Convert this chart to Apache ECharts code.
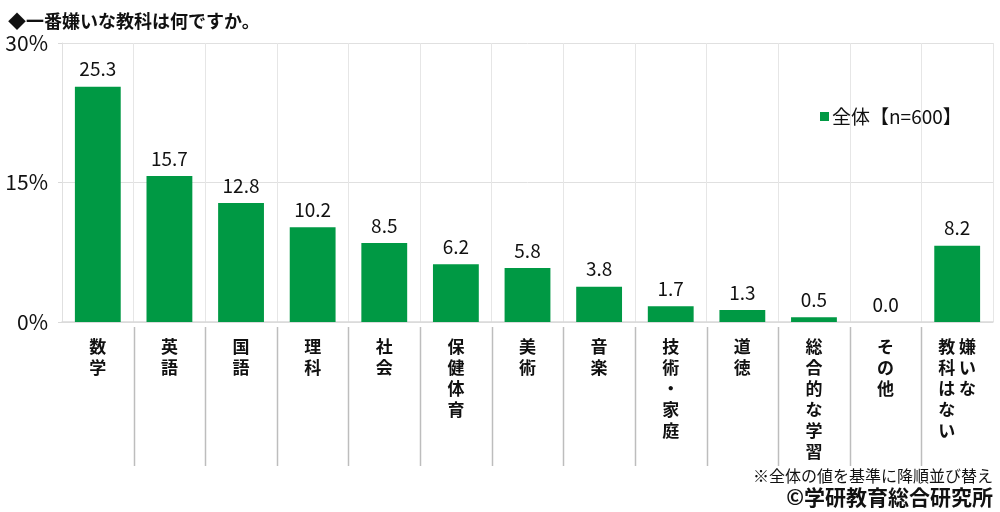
<!DOCTYPE html>
<html><head><meta charset="utf-8">
<script src="https://cdn.jsdelivr.net/npm/echarts@6/dist/echarts.min.js"></script>
<style>html,body{margin:0;padding:0;background:#fff}#c{width:1000px;height:512px}</style>
</head><body><div id="c"></div>
<script>
const titleText = '◆一番嫌いな教科は何ですか。';
const categories = ['数学','英語','国語','理科','社会','保健体育','美術','音楽','技術・家庭','道徳','総合的な学習','その他','嫌いな\n教科はない'];
const values = [25.3,15.7,12.8,10.2,8.5,6.2,5.8,3.8,1.7,1.3,0.5,0.0,8.2];
const seriesName = '全体【n=600】';
const yTicks = [0,15,30];
const noteText = '※全体の値を基準に降順並び替え';
const creditText = '©学研教育総合研究所';

const FONT = '"Noto Sans CJK JP", "Noto Sans", sans-serif';
const GREEN = '#009944';

function vertical(name){
  const cols = name.split('\n'); // reading order: right column first
  const rows = Math.max(...cols.map(c=>c.length));
  const out = [];
  for(let i=0;i<rows;i++){
    const parts = [];
    for(let j=cols.length-1;j>=0;j--){ parts.push(cols[j][i] || '\u3000'); }
    out.push(parts.join(' '));
  }
  return out.join('\n');
}

const chart = echarts.init(document.getElementById('c'));
chart.setOption({
  animation:false,
  textStyle:{fontFamily:FONT},
  title:{text:titleText,left:3,top:7,textStyle:{fontFamily:FONT,fontSize:18,fontWeight:'bold',color:'#111'}},
  legend:{data:[seriesName],left:815,top:102,itemWidth:9,itemHeight:9,itemGap:4,icon:'rect',
    textStyle:{fontFamily:FONT,fontSize:19,color:'#111',padding:[0,0,0,-2]}},
  grid:{left:62,right:7,top:43,bottom:190},
  xAxis:{type:'category',data:categories,
    axisLine:{show:true,lineStyle:{color:'#d9d9d9',width:1.5}},
    axisTick:{show:false},
    splitLine:{show:true,lineStyle:{color:'#e6e6e6',width:1}},
    axisLabel:{interval:0,margin:14,fontFamily:FONT,fontSize:17,fontWeight:'bold',color:'#111',lineHeight:21,
      formatter:(v)=>vertical(v)}},
  yAxis:{type:'value',min:0,max:30,interval:15,
    axisLine:{show:true,lineStyle:{color:'#e0e0e0',width:1}},
    axisTick:{show:true,length:4,lineStyle:{color:'#d9d9d9'}},
    splitLine:{show:true,lineStyle:{color:'#e0e0e0',width:1}},
    axisLabel:{margin:14,fontFamily:FONT,fontSize:21,color:'#111',
      formatter:(v)=> yTicks.includes(v) ? v+'%' : ''}},
  series:[
    {name:seriesName,type:'bar',data:values,barWidth:'64%',itemStyle:{color:GREEN},
     label:{show:true,position:'top',distance:8,fontFamily:FONT,fontSize:19,color:'#111',
       formatter:(p)=>p.value.toFixed(1)}},
    {type:'custom',silent:true,clip:false,z:1,
     data:categories.slice(1).map((c,i)=>[i+1,0]),
     renderItem:(params,api)=>{
       const p = api.coord([api.value(0),0]);
       const band = api.size([1,0])[0];
       const x = Math.round(p[0]-band/2)+0.5;
       return {type:'line',shape:{x1:x,y1:p[1]+5,x2:x,y2:p[1]+144},style:{stroke:'#bdbdbd',lineWidth:1.5}};
     }}
  ],
  graphic:[
    {type:'text',right:7,top:468,style:{text:noteText,font:'16px '+FONT,fill:'#111'}},
    {type:'text',right:7,top:487,style:{text:creditText,font:'bold 21px '+FONT,fill:'#111'}}
  ]
});
</script></body></html>
